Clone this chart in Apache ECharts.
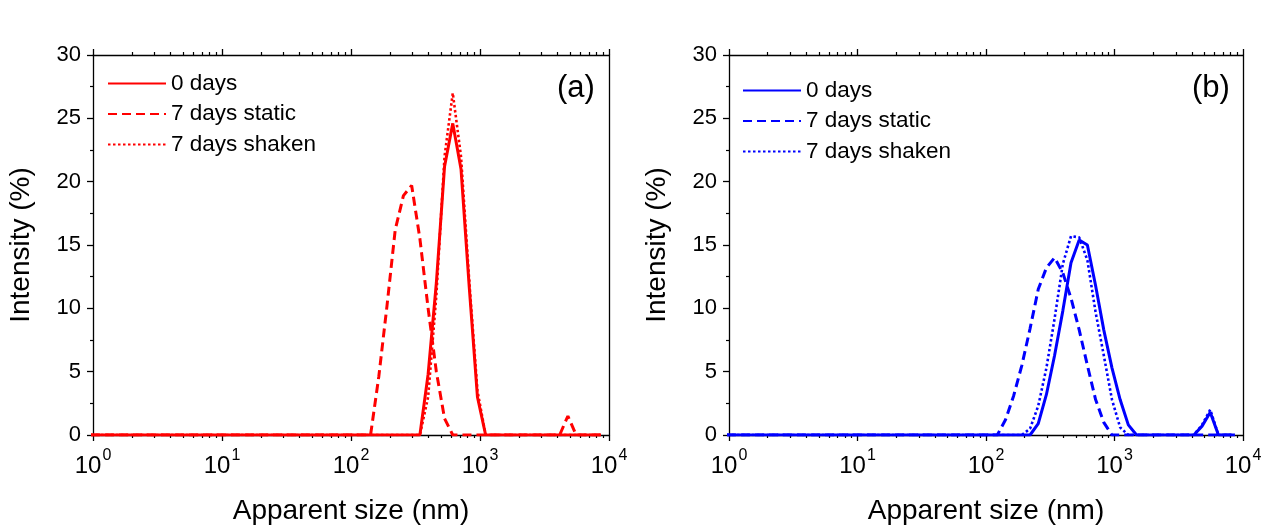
<!DOCTYPE html>
<html><head><meta charset="utf-8">
<script src="https://cdn.jsdelivr.net/npm/echarts@6/dist/echarts.min.js"></script>
<style>html,body{margin:0;padding:0;background:#fff}#c{width:1269px;height:527px}</style>
</head><body><div id="c"></div>
<script>
// DLS size bins (nm)
const sizes = [0.9649,1.117,1.294,1.499,1.736,2.010,2.328,2.696,3.122,3.615,4.187,4.849,5.615,6.503,7.531,8.721,
  10.10,11.70,13.54,15.69,18.17,21.04,24.36,28.21,32.67,37.84,43.82,50.75,58.77,68.06,78.82,91.28,
  105.7,122.4,141.8,164.2,190.1,220.2,255.0,295.3,342.0,396.1,458.7,531.2,615.1,712.4,825.0,955.4,
  1106,1281,1484,1718,1990,2305,2669,3091,3580,4145,4801,5560,6439,7456,8635];
const Z33 = [0,0,0,0,0,0,0,0,0,0,0,0,0,0,0,0,0,0,0,0,0,0,0,0,0,0,0,0,0,0,0,0,0];
// panel (a)
const a0Days     = Z33.concat([0,0,0,0,0,0,0,0,4.8,12,21.2,24.6,21,11.7,3.0,0,0,0,0,0,0,0,0,0,0,0,0,0,0,0]);
const a7Static   = Z33.concat([0,0,4.6,10.2,16.2,18.9,19.7,15.5,10,5,1.3,0,0,0,0,0,0,0,0,0,0,0,0,0,0,1.5,0,0,0,0]);
const a7Shaken   = Z33.concat([0,0,0,0,0,0,0,0,3.0,11,22,27.0,22,12.2,3.5,0,0,0,0,0,0,0,0,0,0,0,0,0,0,0]);
// panel (b)
const b0Days     = Z33.concat([0,0,0,0,0,0.9,3.2,6.3,9.8,13.6,15.4,15.0,11.8,8.3,5.3,2.8,0.8,0,0,0,0,0,0,0,0,0.7,1.8,0,0,0]);
const b7Static   = Z33.concat([0,1.2,3.1,5.5,8.4,11.5,13.2,14.0,12.8,10.8,8.3,5.5,2.8,1.0,0,0,0,0,0,0,0,0,0,0,0,0,0,0,0,0]);
const b7Shaken   = Z33.concat([0,0,0,0,0.5,2.3,5.3,9.2,13.5,15.7,15.6,13.8,9.7,6.3,2.8,0.6,0,0,0,0,0,0,0,0,0,0.8,2.0,0,0,0]);

const seriesNames = ['0 days','7 days static','7 days shaken'];
const xMajor = [1,10,100,1000,10000];
const xMinor = [];
for (let d = 1; d < 10000; d *= 10) for (let k = 2; k <= 9; k++) xMinor.push(d*k);
const yTicks = [0,5,10,15,20,25,30];

const FONT = 'Liberation Sans, Arial, sans-serif';
const pair = arr => sizes.map((s,i)=>[s, arr[i]]);

const grids = [
  {left: 93, top: 55, width: 516, height: 380, containLabel:false, outerBoundsMode:'none'},
  {left: 729, top: 55, width: 514, height: 380, containLabel:false, outerBoundsMode:'none'}
];
const xAxes = [], yAxes = [];
grids.forEach((g, gi) => {
  const base = {type:'log', logBase:10, min:1, max:10000, gridIndex: gi, splitLine:{show:false}};
  xAxes.push(Object.assign({}, base, {
    position:'bottom',
    name:'Apparent size (nm)', nameLocation:'middle', nameGap:62,
    nameTextStyle:{fontFamily:FONT, fontSize:28, color:'#000'},
    axisLine:{show:true, lineStyle:{color:'#000', width:1.3}},
    axisTick:{show:true, inside:false, length:6, customValues:xMajor, lineStyle:{color:'#000', width:1.3}},
    axisLabel:{show:true, customValues:xMajor, margin:13, color:'#000',
      formatter: v => '{b|10}{s|' + Math.round(Math.log10(v)) + '}',
      rich:{ b:{fontFamily:FONT, fontSize:24, color:'#000', lineHeight:30, verticalAlign:'bottom'},
             s:{fontFamily:FONT, fontSize:16, color:'#000', lineHeight:30, verticalAlign:'top', padding:[0,0,0,1]} } }
  }));
  xAxes.push(Object.assign({}, base, {
    position:'bottom', axisLine:{show:false},
    axisTick:{show:true, inside:false, length:3, customValues:xMinor, lineStyle:{color:'#000', width:1.2}},
    axisLabel:{show:false}
  }));
  xAxes.push(Object.assign({}, base, {
    position:'top', axisLine:{show:true, lineStyle:{color:'#000', width:1.3}},
    axisTick:{show:true, inside:false, length:6, customValues:xMajor, lineStyle:{color:'#000', width:1.3}},
    axisLabel:{show:false}
  }));
  xAxes.push(Object.assign({}, base, {
    position:'top', axisLine:{show:false},
    axisTick:{show:true, inside:false, length:3, customValues:xMinor, lineStyle:{color:'#000', width:1.2}},
    axisLabel:{show:false}
  }));
  yAxes.push({
    type:'value', gridIndex: gi, min:0, max:30, interval:5, position:'left',
    name:'Intensity (%)', nameLocation:'middle', nameGap:58, nameRotate:90,
    nameTextStyle:{fontFamily:FONT, fontSize:28, color:'#000'},
    axisLine:{show:true, lineStyle:{color:'#000', width:1.3}},
    axisTick:{show:true, inside:false, length:6, lineStyle:{color:'#000', width:1.3}},
    minorTick:{show:true, splitNumber:2, length:3, lineStyle:{color:'#000', width:1.2}},
    splitLine:{show:false},
    axisLabel:{show:true, margin:12, fontFamily:FONT, fontSize:22, color:'#000',
      customValues: yTicks}
  });
  yAxes.push({
    type:'value', gridIndex: gi, min:0, max:30, interval:5, position:'right',
    axisLine:{show:true, lineStyle:{color:'#000', width:1.3}},
    axisTick:{show:false}, axisLabel:{show:false}, splitLine:{show:false}
  });
});

const styles = [
  {type:'solid', width:3},
  {type:[9,5], width:3},
  {type:[2.5,2.5], width:2.6}
];
function mk(prefix, color, arrs, gi) {
  return arrs.map((arr, i) => ({
    name: prefix + seriesNames[i], type:'line', data: pair(arr),
    xAxisIndex: gi*4, yAxisIndex: gi*2, symbol:'none', smooth:false, clip:true,
    color: color, lineStyle: Object.assign({color: color}, styles[i]),
    animation:false, z: 3 - i
  }));
}
const series = mk('a:', '#ff0000', [a0Days, a7Static, a7Shaken], 0)
  .concat(mk('b:', '#0000ff', [b0Days, b7Static, b7Shaken], 1));

const legendBase = {
  orient:'vertical', itemWidth:58, itemHeight:14, itemGap:7.5, padding:0,
  formatter: n => n.slice(2),
  itemStyle:{opacity:0},
  textStyle:{fontFamily:FONT, fontSize:22.5, color:'#000', lineHeight:22},
  selectedMode:false
};

const chart = echarts.init(document.getElementById('c'), null, {renderer:'canvas'});
chart.setOption({
  backgroundColor:'#fff',
  animation:false,
  title:[
    {text:'(a)', left:552, top:68, textStyle:{fontFamily:FONT, fontSize:31, fontWeight:'normal', color:'#000'}},
    {text:'(b)', left:1187, top:68, textStyle:{fontFamily:FONT, fontSize:31, fontWeight:'normal', color:'#000'}}
  ],
  legend:[
    Object.assign({}, legendBase, {left:107, top:72, data: seriesNames.map(n=>'a:'+n)}),
    Object.assign({}, legendBase, {left:742, top:79, data: seriesNames.map(n=>'b:'+n)})
  ],
  grid: grids,
  xAxis: xAxes,
  yAxis: yAxes,
  series: series
});
</script>
</body></html>
